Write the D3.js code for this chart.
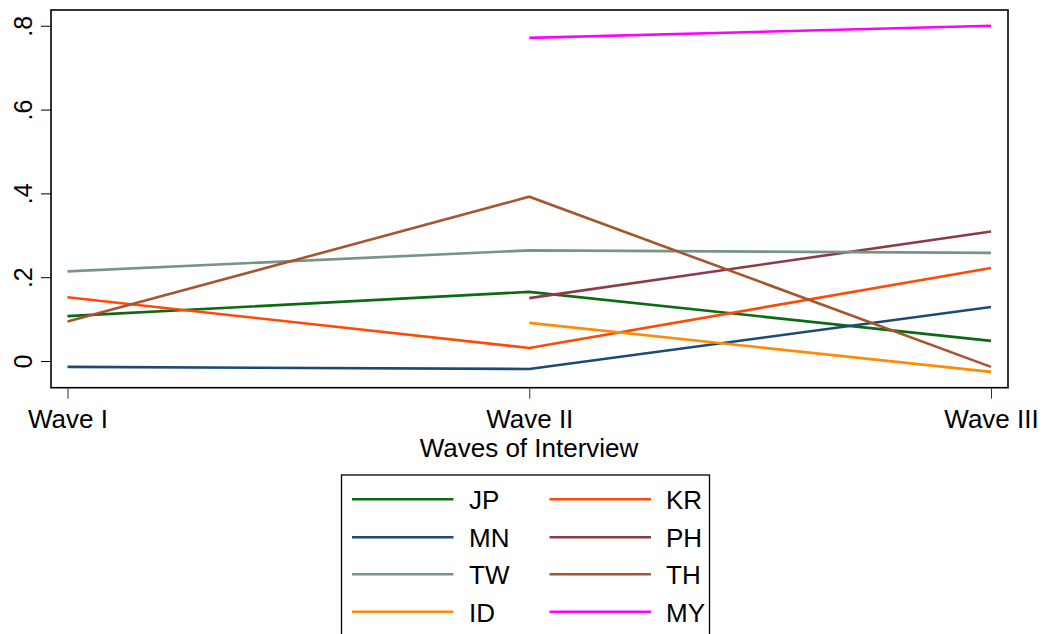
<!DOCTYPE html>
<html>
<head>
<meta charset="utf-8">
<script src="https://cdn.jsdelivr.net/npm/d3@7"></script>
<style>
  html, body { margin: 0; padding: 0; background: #fff; }
  svg { display: block; font-family: "Liberation Sans", Arial, Helvetica, sans-serif; }
</style>
</head>
<body>
<svg id="chart" width="1050" height="634"></svg>
<script>
const waves = ["Wave I", "Wave II", "Wave III"];
const yTicks = [0, 0.2, 0.4, 0.6, 0.8];
const yTickLabels = ["0", ".2", ".4", ".6", ".8"];
const countries = ["JP", "KR", "MN", "PH", "TW", "TH", "ID", "MY"];
const JP = [0.107, 0.165, 0.048];
const KR = [0.152, 0.031, 0.222];
const MN = [-0.014, -0.019, 0.129];
const PH = [null, 0.150, 0.309];
const TW = [0.214, 0.264, 0.258];
const TH = [0.094, 0.392, -0.014];
const ID = [null, 0.091, -0.026];
const MY = [null, 0.771, 0.800];
const colors = {
  JP: "#0b6a12", KR: "#ff4a05", MN: "#1d4a72", PH: "#8e3a44",
  TW: "#76948a", TH: "#a5562f", ID: "#ff8a05", MY: "#ff00ff"
};
const seriesData = { JP, KR, MN, PH, TW, TH, ID, MY };
const legendOrder = ["JP", "KR", "MN", "PH", "TW", "TH", "ID", "MY"];

const svg = d3.select("#chart");
const frame = { left: 51, right: 1008, top: 10, bottom: 387.7 };

const x = d3.scalePoint().domain(waves).range([67.5, 991]);
const y = d3.scaleLinear().domain([-0.0637, 0.8376]).range([frame.bottom, frame.top]);

// frame
svg.append("rect")
  .attr("x", frame.left).attr("y", frame.top)
  .attr("width", frame.right - frame.left).attr("height", frame.bottom - frame.top)
  .attr("fill", "none").attr("stroke", "#000").attr("stroke-width", 1.6);

// y axis
const yAxis = svg.append("g").attr("transform", `translate(${frame.left},0)`)
  .call(d3.axisLeft(y).tickValues(yTicks).tickSize(10).tickPadding(0)
    .tickFormat((d, i) => yTickLabels[i]));
yAxis.select(".domain").remove();
yAxis.selectAll(".tick line").attr("stroke", "#000").attr("stroke-width", 1);
yAxis.selectAll(".tick text")
  .attr("font-size", 25).attr("fill", "#000")
  .attr("text-anchor", "middle")
  .attr("x", 0).attr("y", 0).attr("dy", 0)
  .attr("transform", "translate(-19,0) rotate(-90)");

// x axis
const xAxis = svg.append("g").attr("transform", `translate(0,${frame.bottom})`)
  .call(d3.axisBottom(x).tickSize(11).tickPadding(0));
xAxis.select(".domain").remove();
xAxis.selectAll(".tick line").attr("stroke", "#333").attr("stroke-width", 1);
xAxis.selectAll(".tick text")
  .attr("font-size", 26).attr("fill", "#000")
  .attr("y", 40).attr("dy", 0);

svg.append("text")
  .attr("x", 529).attr("y", 457)
  .attr("text-anchor", "middle").attr("font-size", 26).attr("fill", "#000")
  .text("Waves of Interview");

// lines
const line = d3.line()
  .defined(d => d.v !== null)
  .x(d => x(d.w))
  .y(d => y(d.v));

countries.forEach(c => {
  const pts = waves.map((w, i) => ({ w, v: seriesData[c][i] }));
  svg.append("path")
    .attr("d", line(pts))
    .attr("fill", "none")
    .attr("stroke", colors[c])
    .attr("stroke-width", 2.6)
    .attr("stroke-linejoin", "miter");
});

// legend
const lg = svg.append("g");
lg.append("rect")
  .attr("x", 341.5).attr("y", 475)
  .attr("width", 368).attr("height", 200)
  .attr("fill", "#fff").attr("stroke", "#000").attr("stroke-width", 1.3);
const rowY = [499.3, 537.3, 574.3, 611.7];
legendOrder.forEach((c, i) => {
  const col = i % 2, row = Math.floor(i / 2);
  const lx = col === 0 ? 352 : 549.5;
  const tx = col === 0 ? 469 : 666;
  lg.append("line")
    .attr("x1", lx).attr("x2", lx + 101.5)
    .attr("y1", rowY[row]).attr("y2", rowY[row])
    .attr("stroke", colors[c]).attr("stroke-width", 2.6);
  lg.append("text")
    .attr("x", tx).attr("y", rowY[row] + 10)
    .attr("font-size", 26).attr("fill", "#000")
    .text(c);
});
</script>
</body>
</html>
